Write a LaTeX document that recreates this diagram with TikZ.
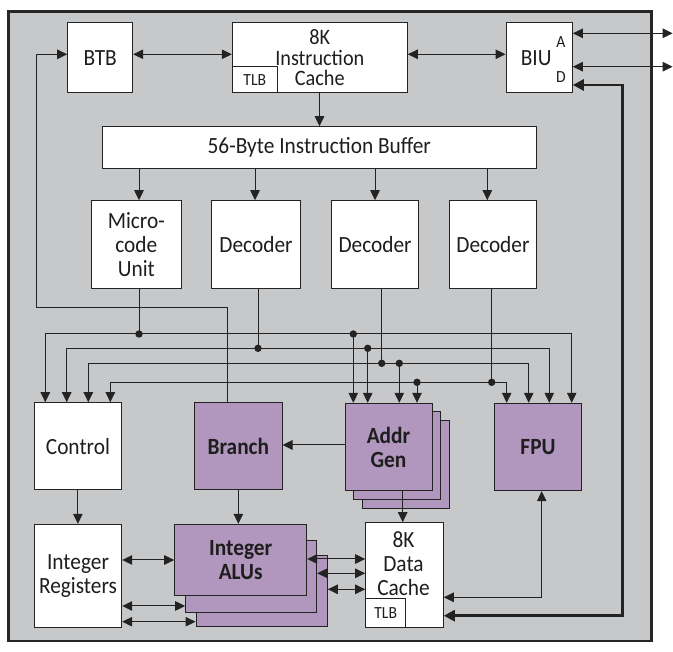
\documentclass[tikz,border=0pt]{standalone}
\usepackage{fontspec}
\setmainfont{Carlito}[FakeStretch=0.92]
\usetikzlibrary{arrows.meta}
\definecolor{bggray}{RGB}{199,200,202}
\definecolor{purp}{RGB}{177,150,189}
\definecolor{linec}{RGB}{35,35,35}
\definecolor{txtc}{RGB}{30,30,30}
\newcommand\dgmfont{\fontsize{23.2}{24}\selectfont}
\newcommand\dgmsmall{\fontsize{17}{18}\selectfont}
\begin{document}
\begin{tikzpicture}[x=1pt,y=-1pt,
  hd/.tip={Triangle[width=9.5pt,length=10pt]},
  hdbig/.tip={Triangle[width=11pt,length=11pt]},
  box/.style={draw=linec, line width=1pt, fill=white, inner sep=0pt, text=txtc, align=center, font=\dgmfont},
  pbox/.style={box, fill=purp, font=\dgmfont\bfseries},
  smallbox/.style={box, font=\dgmsmall},
  lbl/.style={inner sep=0pt, text=txtc, align=center, font=\dgmfont},
  slbl/.style={inner sep=0pt, text=txtc, font=\dgmsmall},
  conn/.style={draw=linec, line width=1pt},
  arr/.style={conn, -hd},
  dbl/.style={conn, hd-hd},
  thickdbl/.style={draw=linec, line width=2.8pt, hdbig-hdbig},
  dotj/.style={fill=linec}
]
\useasboundingbox (0,0) rectangle (673,652);
\draw[line width=2.8pt, draw=black!85, fill=bggray] (8.6,11.7) rectangle (651.8,641);

% top row
\node[box, minimum width=65pt, minimum height=70.7pt] (btb) at (100.2,57.65) {BTB};
\node[box, minimum width=175pt, minimum height=70.7pt, font=\fontsize{22}{20.5}\selectfont] (icache) at (319.8,57.65) {8K\\Instruction\\Cache};
\node[smallbox, minimum width=45pt, minimum height=26.3pt] (itlb) at (254.8,79.85) {TLB};
\node[box, minimum width=66.3pt, minimum height=70.7pt] (biu) at (539.15,57.65) {};
\node[lbl] (biutxt) at (536.2,58.3) {BIU};
\node[slbl] (biuA) at (561,41.7) {A};
\node[slbl] (biuD) at (561,76.7) {D};
\coordinate (extA) at (672.6,33.3);
\coordinate (extD) at (672.6,66.7);

% buffer
\node[box, minimum width=434.5pt, minimum height=41.6pt] (buf) at (319.25,147.5) {56-Byte Instruction Buffer};

% decode row
\node[box, minimum width=89.3pt, minimum height=87.6pt] (micro) at (136.35,244.5) {Micro-\\code\\Unit};
\node[box, minimum width=88.8pt, minimum height=87.6pt] (dec1) at (256,244.5) {Decoder};
\node[box, minimum width=87.6pt, minimum height=87.6pt] (dec2) at (375.1,244.5) {Decoder};
\node[box, minimum width=87.1pt, minimum height=87.6pt] (dec3) at (492.95,244.5) {Decoder};

% execution row
\node[box, minimum width=87.2pt, minimum height=87.3pt] (control) at (77.9,446.35) {Control};
\node[pbox, minimum width=87.3pt, minimum height=87.3pt] (branch) at (238.35,446.35) {Branch};
\node[pbox, minimum width=87pt, minimum height=87.4pt] (ag3) at (406.3,464.6) {};
\node[pbox, minimum width=87pt, minimum height=87.4pt] (ag2) at (397.2,455.4) {};
\node[pbox, minimum width=87pt, minimum height=87.4pt] (ag1) at (388.5,447) {Addr\\Gen};
\node[pbox, minimum width=87.4pt, minimum height=87.4pt] (fpu) at (538,447) {FPU};

% bottom row
\node[box, minimum width=87.4pt, minimum height=103pt] (ireg) at (78,575.8) {Integer\\Registers};
\node[pbox, minimum width=131.3pt, minimum height=71.4pt] (alu3) at (261.65,591) {};
\node[pbox, minimum width=131pt, minimum height=71.3pt] (alu2) at (251.2,576.65) {};
\node[pbox, minimum width=132pt, minimum height=71.4pt] (alu1) at (240.7,560) {Integer\\ALUs};
\node[box, minimum width=77.6pt, minimum height=104.6pt] (dcache) at (404.5,575) {};
\node[lbl] (dctxt) at (403.5,563.3) {8K\\Data\\Cache};
\node[smallbox, minimum width=40pt, minimum height=29pt] (dtlb) at (385.7,612.8) {TLB};

% top connectors
\draw[dbl] (btb.east |- 0,54.3) -- (icache.west |- 0,54.3);
\draw[dbl] (icache.east |- 0,54.3) -- (biu.west |- 0,54.3);
\draw[dbl] (biu.east |- extA) -- (extA);
\draw[dbl] (biu.east |- extD) -- (extD);
\draw[arr] (icache.south -| 319.5,0) -- (buf.north -| 319.5,0);
\draw[arr] (buf.south -| 139,0) -- (micro.north -| 139,0);
\draw[arr] (buf.south -| 255,0) -- (dec1.north -| 255,0);
\draw[arr] (buf.south -| 375,0) -- (dec2.north -| 375,0);
\draw[arr] (buf.south -| 487.3,0) -- (dec3.north -| 487.3,0);

% branch feedback to BTB
\draw[arr] (branch.north -| 227.3,0) |- (36.3,307.7) |- (btb.west |- 0,54.3);

% bus 1
\coordinate (j1) at (139,334);
\coordinate (j1b) at (353.3,334);
\draw[conn] (micro.south -| j1) -- (j1);
\draw[arr] (j1) -| (control.north -| 45.3,0);
\draw[arr] (j1) -| (fpu.north -| 571.7,0);
\draw[arr] (j1b) -- (ag1.north -| j1b);
% bus 2
\coordinate (j2) at (258,348.3);
\coordinate (j2b) at (367.7,348.3);
\draw[conn] (dec1.south -| j2) -- (j2);
\draw[arr] (j2) -| (control.north -| 66.7,0);
\draw[arr] (j2) -| (fpu.north -| 549.3,0);
\draw[arr] (j2b) -- (ag1.north -| j2b);
% bus 3
\coordinate (j3) at (381.7,363.3);
\coordinate (j3b) at (399.3,363.3);
\draw[conn] (dec2.south -| j3) -- (j3);
\draw[arr] (j3) -| (control.north -| 88.3,0);
\draw[arr] (j3) -| (fpu.north -| 528.7,0);
\draw[arr] (j3b) -- (ag1.north -| j3b);
% bus 4
\coordinate (j4) at (491.7,382.3);
\coordinate (j4b) at (417,382.3);
\draw[conn] (dec3.south -| j4) -- (j4);
\draw[arr] (j4) -| (control.north -| 110.3,0);
\draw[arr] (j4) -| (fpu.north -| 506.7,0);
\draw[arr] (j4b) -- (ag1.north -| j4b);
\foreach \p in {j1,j1b,j2,j2b,j3,j3b,j4,j4b} \fill[dotj] (\p) circle[radius=3.7pt];

% execution connectors
\draw[arr] (ag1.west |- 0,445) -- (branch.east |- 0,445);
\draw[arr] (control.south) -- (ireg.north -| control.south);
\draw[arr] (branch.south) -- (alu1.north -| branch.south);
\draw[arr] (ag1.south -| 402.7,0) -- (dcache.north -| 402.7,0);

% register <-> ALUs
\draw[dbl] (ireg.east |- 0,560) -- (alu1.west |- 0,560);
\draw[dbl] (ireg.east |- 0,606) -- (alu2.west |- 0,606);
\draw[dbl] (ireg.east |- 0,621.7) -- (alu3.west |- 0,621.7);
% ALUs <-> data cache
\draw[dbl] (alu1.east |- 0,559) -- (dcache.west |- 0,559);
\draw[dbl] (alu2.east |- 0,573.3) -- (dcache.west |- 0,573.3);
\draw[dbl] (alu3.east |- 0,589.3) -- (dcache.west |- 0,589.3);
% FPU <-> data cache
\draw[dbl] (fpu.south -| 541.7,0) |- (dcache.east |- 0,597.3);
% BIU <-> data cache (thick)
\draw[thickdbl] (biu.east |- 0,85) -- (622.7,85) -- (622.7,615.7) -- (dcache.east |- 0,615.7);
\end{tikzpicture}
\end{document}
